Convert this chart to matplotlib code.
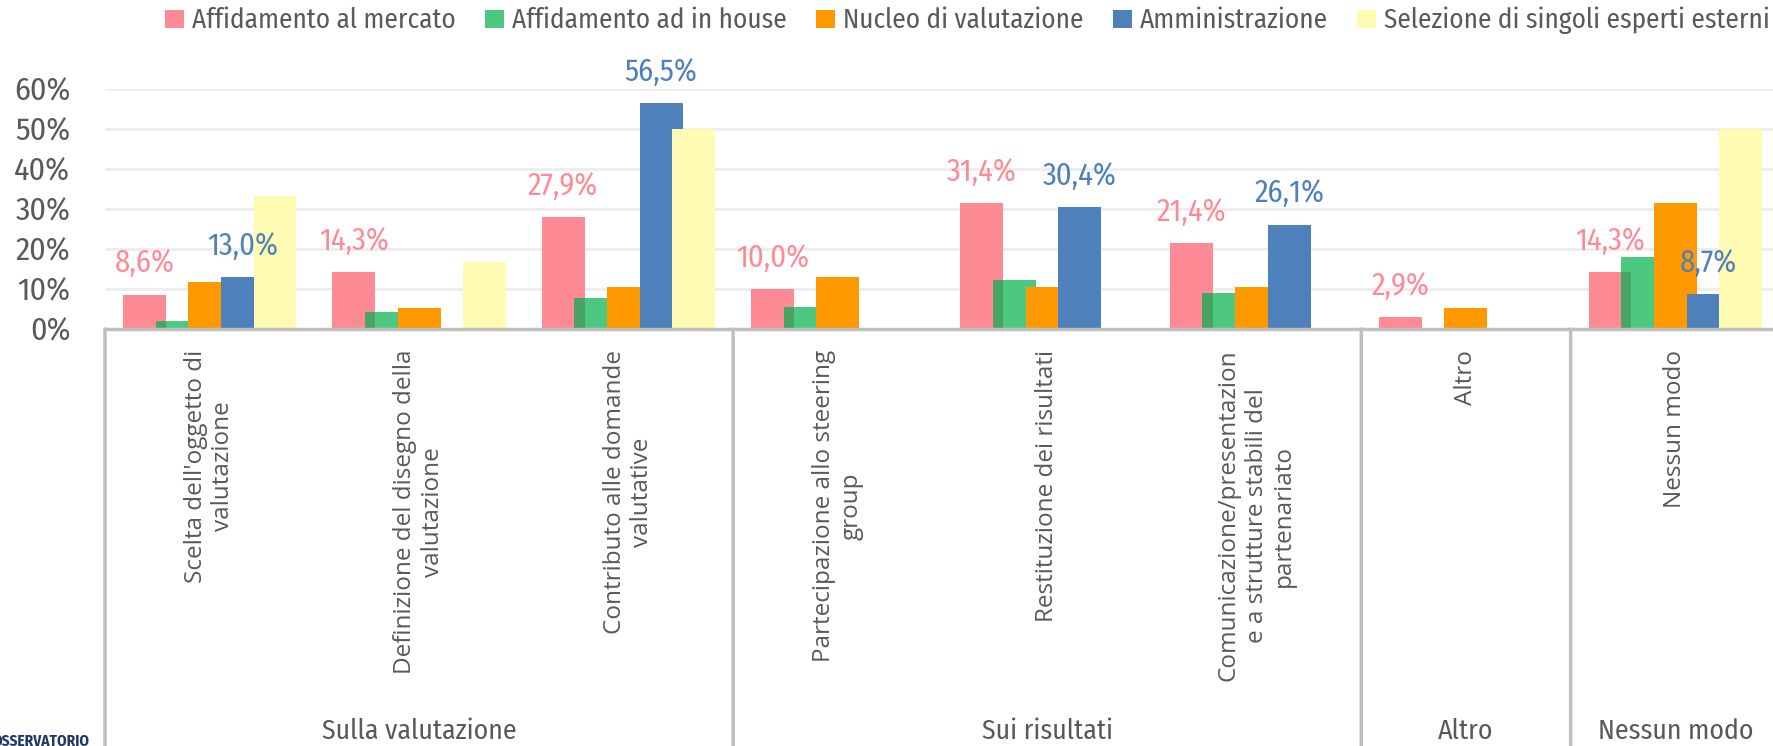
import numpy as np
import matplotlib
matplotlib.use('Agg')
import matplotlib.pyplot as plt

# === DATA ===
categories = ["Scelta dell'oggetto di\nvalutazione",
              "Definizione del disegno della\nvalutazione",
              "Contributo alle domande\nvalutative",
              "Partecipazione allo steering\ngroup",
              "Restituzione dei risultati",
              "Comunicazione/presentazion\ne a strutture stabili del\npartenariato",
              "Altro",
              "Nessun modo"]
groups = ["Sulla valutazione", "Sui risultati", "Altro", "Nessun modo"]
group_sizes = [3, 3, 1, 1]

series_names = ["Affidamento al mercato", "Affidamento ad in house",
                "Nucleo di valutazione", "Amministrazione",
                "Selezione di singoli esperti esterni"]
mercato = [8.6, 14.3, 27.9, 10.0, 31.4, 21.4, 2.9, 14.3]
in_house = [2.0, 4.3, 7.8, 5.4, 12.3, 8.9, 0.0, 18.1]
nucleo = [11.7, 5.2, 10.4, 13.0, 10.4, 10.4, 5.2, 31.5]
amministrazione = [13.0, 0.0, 56.5, 0.0, 30.4, 26.1, 0.0, 8.7]
esperti = [33.3, 16.7, 50.0, 0.0, 0.0, 0.0, 0.0, 50.0]
y_ticks = [0, 10, 20, 30, 40, 50, 60]

colors = ['#FD8A95', '#4DC881', '#FF9900', '#4E80BB', '#FFFBB3']
overlap_col = '#47A463'
text_col = '#595959'
line_col = '#BFBFBF'

NARROW = ['Fira Sans Condensed', 'DejaVu Sans']
WIDE = ['Open Sans', 'DejaVu Sans']

W, H = 1774, 746
fig = plt.figure(figsize=(W / 100, H / 100), dpi=100)
ax = fig.add_axes([105 / W, 1 - 329 / H, (1780 - 105) / W, (329 - 89) / H])

n = len(categories)
x = np.arange(n)
bw = 0.205    # bar width
step = 0.156  # distance between bars (bars overlap)
first = -0.5 + (1 - (4 * step + bw)) / 2 + bw / 2

all_series = [mercato, in_house, nucleo, amministrazione, esperti]
handles = []
for k, vals in enumerate(all_series):
    b = ax.bar(x + first + k * step, vals, width=bw, color=colors[k],
               linewidth=0, label=series_names[k])
    handles.append(b)
    if k == 1:
        # darker strip where green covers the pink bar
        ov = np.minimum(mercato, in_house)
        ax.bar(x + first + step / 2, ov, width=bw - step,
               color=overlap_col, linewidth=0)

# data labels (only pink and blue series)
for k in [0, 3]:
    vals = all_series[k]
    for i, v in enumerate(vals):
        if v <= 0:
            continue
        ax.annotate(f"{v:.1f}%".replace('.', ','), (x[i] + first + k * step, v),
                    xytext=(0, 16), textcoords='offset points',
                    ha='center', va='baseline', fontsize=22,
                    color=colors[k], family=NARROW, annotation_clip=False)

ax.set_xlim(-0.5, n - 0.5)
ax.set_ylim(0, 60)
ax.set_yticks(y_ticks)
ax.set_yticklabels([f"{t}%" for t in y_ticks], fontsize=23, color=text_col,
                   family=NARROW)
ax.tick_params(axis='y', length=0, pad=25)
ax.set_xticks([])
ax.grid(axis='y', color='#EDEDED', linewidth=2)
ax.set_axisbelow(True)
for s in ['top', 'right', 'left']:
    ax.spines[s].set_visible(False)
ax.spines['bottom'].set_color(line_col)
ax.spines['bottom'].set_linewidth(2.5)

# category labels, rotated
for i, lab in enumerate(categories):
    ax.annotate(lab, (x[i], 0), xycoords=('data', 'axes fraction'),
                xytext=(0, -15), textcoords='offset points',
                rotation=90, ha='center', va='top', multialignment='center',
                fontsize=17.5, color=text_col, family=WIDE, linespacing=1.2)

# group labels and separators
edges = np.concatenate([[0], np.cumsum(group_sizes)]) - 0.5
for g, name in enumerate(groups):
    ax.annotate(name, ((edges[g] + edges[g + 1]) / 2, 0),
                xycoords=('data', 'axes fraction'),
                xytext=(0, -(731 - 329) * 0.72), textcoords='offset points',
                ha='center', va='center', fontsize=20, color=text_col,
                family=NARROW, annotation_clip=False)
for e in edges:
    ax.annotate('', (e, 0), xycoords=('data', 'axes fraction'),
                xytext=(e, -0.02), textcoords=('data', 'figure fraction'),
                arrowprops=dict(arrowstyle='-', color=line_col, lw=2.5,
                                shrinkA=0, shrinkB=0),
                annotation_clip=False)

fig.legend(handles=handles, labels=series_names, loc='upper left',
           bbox_to_anchor=(165 / W, 1 - 7 / H), ncol=5, frameon=False,
           handlelength=0.69, handleheight=0.69, handletextpad=0.29,
           columnspacing=1.1, borderpad=0, borderaxespad=0,
           prop={'family': NARROW, 'size': 19.5},
           labelcolor=text_col)

fig.text(-8 / W, 1 - 733 / H, "OSSERVATORIO", ha='left', va='top',
         fontsize=11, fontweight='bold', color='#1F3864', family=NARROW)

fig.savefig('out.png', dpi=100)
